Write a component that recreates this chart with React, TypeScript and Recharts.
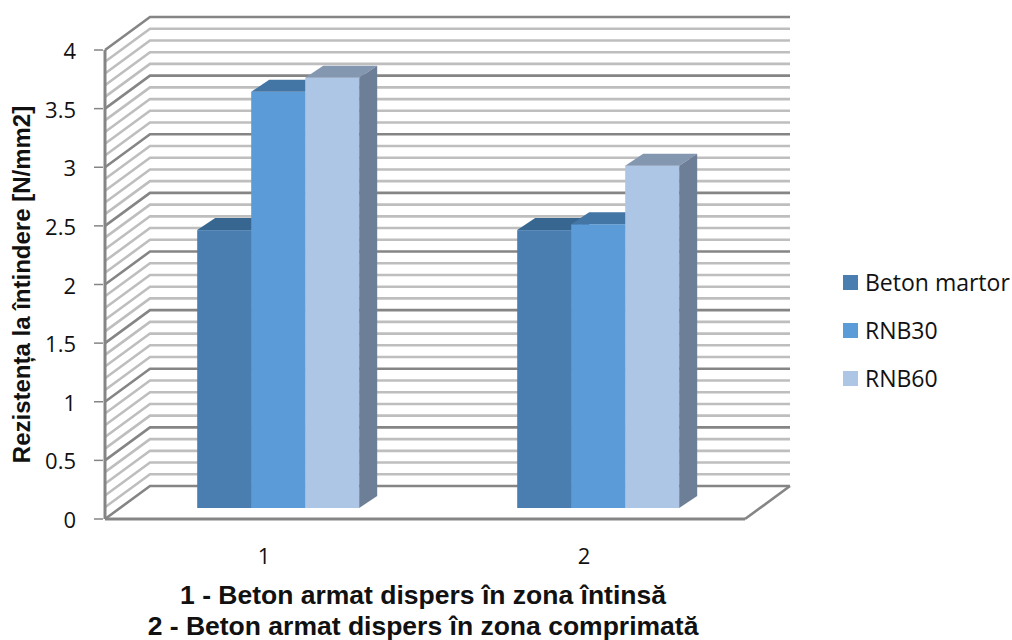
import { BarChart, Bar, XAxis, YAxis, CartesianGrid, Legend, Label } from "recharts";

const categories = ["1", "2"];
const betonMartor = [2.37, 2.37];
const rnb30 = [3.55, 2.42];
const rnb60 = [3.67, 2.92];

const yTicks = [
  0, 0.1, 0.2, 0.3, 0.4, 0.5, 0.6, 0.7, 0.8, 0.9, 1, 1.1, 1.2, 1.3, 1.4, 1.5, 1.6, 1.7, 1.8, 1.9, 2,
  2.1, 2.2, 2.3, 2.4, 2.5, 2.6, 2.7, 2.8, 2.9, 3, 3.1, 3.2, 3.3, 3.4, 3.5, 3.6, 3.7, 3.8, 3.9, 4,
];
const yLabels = [0, 0.5, 1, 1.5, 2, 2.5, 3, 3.5, 4];

const chartData = categories.map((group, i) => ({
  group,
  beton: betonMartor[i],
  rnb30: rnb30[i],
  rnb60: rnb60[i],
}));

const TEXT_FONT = "'Open Sans', sans-serif";
const BOLD_FONT = "'Liberation Sans', Arial, sans-serif";
const MAJOR_LINE = "#858585";
const MINOR_LINE = "#BEBEBE";

// depth of the chart box and of the bars, as a screen offset
const WALL_DX = 45;
const WALL_DY = -33;
const BAR_SHIFT_X = 13;
const BAR_SHIFT_Y = -11;
const BAR_DX = 18;
const BAR_DY = -12;

// one rung of the wall: slanted part on the side wall, then straight across the back
function WallLine(props: any) {
  const { x1, x2, y1, index } = props;
  const major = index % 5 === 0;
  const stroke = major ? MAJOR_LINE : MINOR_LINE;
  const backY = y1 + WALL_DY;
  const isFloor = Math.abs(y1 - 519) < 1;
  return (
    <g key={props.key}>
      <path
        d={`M${x1} ${y1}L${x1 + WALL_DX} ${backY}L${x2 + WALL_DX} ${backY}`}
        fill="none"
        stroke={stroke}
        strokeWidth={2.6}
      />
      {isFloor && (
        <line x1={x2} y1={y1} x2={x2 + WALL_DX} y2={backY} stroke={MAJOR_LINE} strokeWidth={2.6} />
      )}
    </g>
  );
}

function YTick(props: any) {
  const { x, y, payload } = props;
  if (!yLabels.includes(payload.value)) return null;
  return (
    <g>
      <line x1={x - 9} x2={x} y1={y} y2={y} stroke={MAJOR_LINE} strokeWidth={1.5} />
      <text x={x - 27} y={y + 9} textAnchor="end" fontFamily={TEXT_FONT} fontSize={22} fill="#111">
        {payload.value}
      </text>
    </g>
  );
}

function box3d(top: string, side: string) {
  return function Box(props: any) {
    const { x, y, width, height, fill } = props;
    const left = x + BAR_SHIFT_X;
    const right = left + width;
    const upper = y + BAR_SHIFT_Y;
    const lower = upper + height;
    return (
      <g>
        <rect x={left} y={upper} width={width} height={height} fill={fill} />
        <polygon
          points={`${left},${upper} ${left + BAR_DX},${upper + BAR_DY} ${right + BAR_DX},${upper + BAR_DY} ${right},${upper}`}
          fill={top}
        />
        <polygon
          points={`${right},${upper} ${right + BAR_DX},${upper + BAR_DY} ${right + BAR_DX},${lower + BAR_DY} ${right},${lower}`}
          fill={side}
        />
      </g>
    );
  };
}

function LegendBox({ payload }: any) {
  return (
    <div style={{ fontFamily: TEXT_FONT, fontSize: 23, color: "#111" }}>
      {(payload || []).map((item: any) => (
        <div key={item.value} style={{ display: "flex", alignItems: "center", height: 48 }}>
          <span style={{ width: 15, height: 15, background: item.color, marginRight: 7 }} />
          {item.value}
        </div>
      ))}
    </div>
  );
}

export default function App() {
  return (
    <div style={{ position: "absolute", left: 0, top: 0, width: 1012, height: 640, background: "#fff" }}>
      <BarChart
        width={1012}
        height={640}
        data={chartData}
        margin={{ top: 50, right: 98, bottom: 0, left: 0 }}
        barGap={0}
        barCategoryGap="24.75%"
      >
        <CartesianGrid vertical={false} syncWithTicks horizontal={WallLine} />
        <XAxis
          dataKey="group"
          height={121}
          tickLine={false}
          axisLine={{ stroke: MAJOR_LINE, strokeWidth: 3 }}
          tick={{ fontFamily: TEXT_FONT, fontSize: 22, fill: "#111", dx: -1 }}
          tickMargin={23}
        >
          <Label
            value="1 - Beton armat dispers în zona întinsă"
            position="insideTop"
            offset={66}
            dx={-2}
            style={{ fontFamily: BOLD_FONT, fontWeight: "bold", fontSize: 26.5, fill: "#111" }}
          />
          <Label
            value="2 - Beton armat dispers în zona comprimată"
            position="insideTop"
            offset={97}
            dx={-2}
            style={{ fontFamily: BOLD_FONT, fontWeight: "bold", fontSize: 26.5, fill: "#111" }}
          />
        </XAxis>
        <YAxis
          width={105}
          domain={[0, 4]}
          ticks={yTicks}
          interval={0}
          tickLine={false}
          tickSize={0}
          axisLine={{ stroke: MAJOR_LINE, strokeWidth: 3 }}
          tick={YTick}
        >
          <Label
            value="Rezistența la întindere [N/mm2]"
            angle={-90}
            position="center"
            dx={-31}
            style={{ fontFamily: BOLD_FONT, fontWeight: "bold", fontSize: 24, fill: "#111", textAnchor: "middle" }}
          />
        </YAxis>
        <Legend
          layout="vertical"
          align="right"
          verticalAlign="middle"
          content={LegendBox}
          wrapperStyle={{ position: "absolute", left: 843, top: 258, width: 169, height: 144 }}
        />
        <Bar dataKey="beton" name="Beton martor" fill="#4A7EB1" shape={box3d("#376690", "#3A6A98")} isAnimationActive={false} />
        <Bar dataKey="rnb30" name="RNB30" fill="#5B9BD7" shape={box3d("#4375A5", "#4A7DB0")} isAnimationActive={false} />
        <Bar dataKey="rnb60" name="RNB60" fill="#AEC6E6" shape={box3d("#8497B0", "#6D7F96")} isAnimationActive={false} />
      </BarChart>
    </div>
  );
}
